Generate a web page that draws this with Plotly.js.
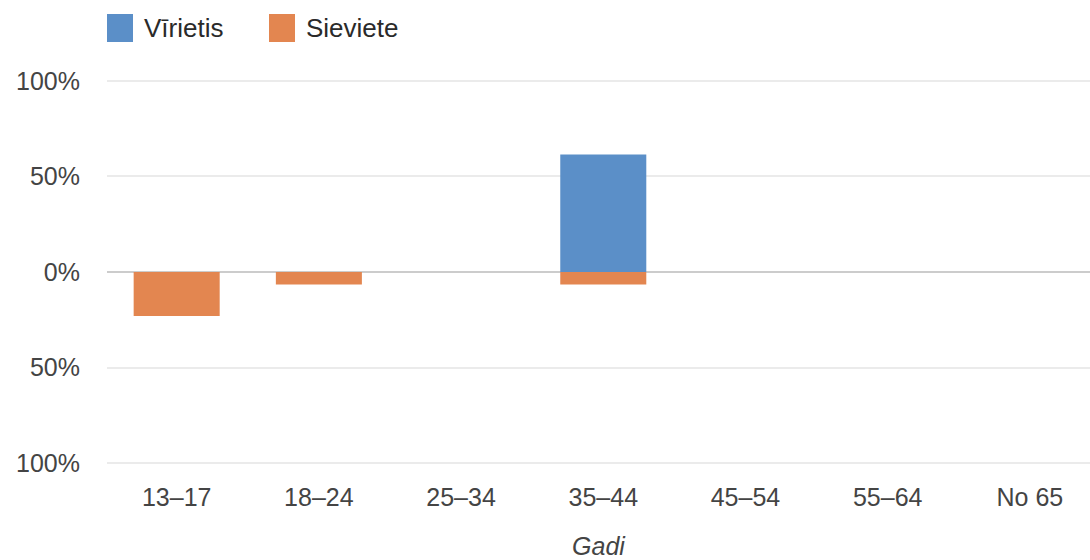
<!DOCTYPE html>
<html>
<head>
<meta charset="utf-8">
<script src="https://cdn.plot.ly/plotly-3.0.1.min.js"></script>
<style>html,body{margin:0;padding:0;background:#fff;}#chart{width:1090px;height:560px;}</style>
</head>
<body>
<div id="chart"></div>
<script>
const categories = ["13–17", "18–24", "25–34", "35–44", "45–54", "55–64", "No 65"];
const seriesNames = ["Vīrietis", "Sieviete"];
const maleValues = [0, 0, 0, 0.615, 0, 0, 0];
const femaleValues = [-0.23, -0.065, 0, -0.065, 0, 0, 0];
const yTickVals = [-1, -0.5, 0, 0.5, 1];
const yTickText = ["100%", "50%", "0%", "50%", "100%"];
const xTitle = "Gadi";

const colors = ["#5b8fc8", "#e38650"];
const W = 1090, H = 560, L = 107, R = 0, T = 79, B = 95;
const pw = W - L - R, ph = H - T - B;
const px2x = p => (p - L) / pw;
const px2y = p => (H - B - p) / ph;
const font = "Liberation Sans, Arial, sans-serif";

const traces = [
  {type: "bar", x: categories, y: maleValues, name: seriesNames[0], marker: {color: colors[0]}, hoverinfo: "skip"},
  {type: "bar", x: categories, y: femaleValues, name: seriesNames[1], marker: {color: colors[1]}, hoverinfo: "skip"}
];

const legendItems = [
  {box: [107, 133], textX: 142},
  {box: [269, 295], textX: 304}
];
const shapes = [];
const annotations = [];
legendItems.forEach((it, i) => {
  shapes.push({type: "rect", xref: "paper", yref: "paper",
    x0: px2x(it.box[0]), x1: px2x(it.box[1]), y0: px2y(42), y1: px2y(14),
    fillcolor: colors[i], line: {width: 0}});
  annotations.push({xref: "paper", yref: "paper", x: px2x(it.textX), y: px2y(28),
    xanchor: "left", yanchor: "middle", showarrow: false, text: seriesNames[i],
    font: {family: font, size: 26, color: "#2a2a2a"}});
});

const layout = {
  width: W, height: H,
  margin: {l: L, r: R, t: T, b: B, pad: 0},
  paper_bgcolor: "#fff", plot_bgcolor: "#fff",
  barmode: "relative", bargap: 0.395,
  showlegend: false,
  font: {family: font, size: 25, color: "#444"},
  xaxis: {
    type: "category", range: [-0.49, -0.49 + pw / 142.2],
    showgrid: false, zeroline: false, showline: false, ticks: "",
    ticklabelstandoff: 15,
    tickfont: {family: font, size: 25, color: "#444"},
    title: {text: "<i>" + xTitle + "</i>", font: {family: font, size: 25, color: "#444"}, standoff: 34},
    fixedrange: true
  },
  yaxis: {
    range: [-1.01, 1.01], tickvals: yTickVals, ticktext: yTickText,
    showgrid: true, gridcolor: "#ebebeb", gridwidth: 2,
    zeroline: true, zerolinecolor: "#cccccc", zerolinewidth: 2,
    showline: false, ticks: "", ticklabelstandoff: 26,
    tickfont: {family: font, size: 25, color: "#444"},
    fixedrange: true
  },
  shapes: shapes,
  annotations: annotations
};

Plotly.newPlot("chart", traces, layout, {displayModeBar: false, staticPlot: true});
</script>
</body>
</html>
